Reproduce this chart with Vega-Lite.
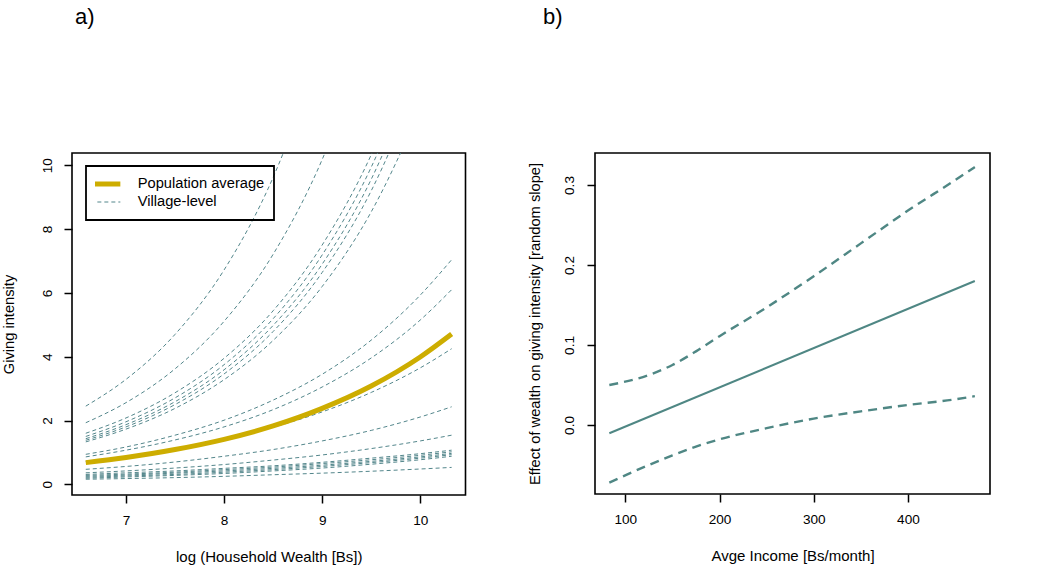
{
  "$schema": "https://vega.github.io/schema/vega-lite/v6.json",
  "padding": {"left": 0, "top": 5, "right": 5, "bottom": 5},
  "background": "white",
  "spacing": 59,
  "config": {
    "view": {"stroke": "black", "strokeWidth": 1.6},
    "font": "Liberation Sans",
    "axis": {"grid": false, "domain": false, "tickColor": "black", "tickWidth": 1.5, "tickSize": 8, "labelColor": "black", "labelFont": "Liberation Sans", "labelFontSize": 13.6, "titleFont": "Liberation Sans", "titleFontWeight": "normal", "titleColor": "black", "minExtent": 0, "maxExtent": 200},
    "axisX": {"labelPadding": 10, "titleFontSize": 15, "titlePadding": 23, "labelFlush": false},
    "axisY": {"labelAngle": 270, "labelAlign": "center", "labelBaseline": "bottom", "titleFontSize": 14.7, "labelPadding": 10},
    "title": {"font": "Liberation Sans Narrow, Liberation Sans", "fontSize": 22, "fontWeight": "normal", "anchor": "start", "color": "black", "baseline": "alphabetic", "frame": "group"},
    "line": {"strokeCap": "butt"}
  },
  "datasets": {
    "village": [
      {"v":"A","s":"Village-level","x":6.59,"y":2.45},{"v":"A","s":"Village-level","x":7,"y":3.29},{"v":"A","s":"Village-level","x":7.5,"y":4.70},{"v":"A","s":"Village-level","x":8,"y":6.72},{"v":"A","s":"Village-level","x":8.5,"y":9.62},{"v":"A","s":"Village-level","x":9,"y":13.76},
      {"v":"B","s":"Village-level","x":6.59,"y":1.93},{"v":"B","s":"Village-level","x":7,"y":2.56},{"v":"B","s":"Village-level","x":7.5,"y":3.62},{"v":"B","s":"Village-level","x":8,"y":5.11},{"v":"B","s":"Village-level","x":8.5,"y":7.21},{"v":"B","s":"Village-level","x":9,"y":10.18},{"v":"B","s":"Village-level","x":9.5,"y":14.37},
      {"v":"C1","s":"Village-level","x":6.59,"y":1.60},{"v":"C1","s":"Village-level","x":7,"y":2.08},{"v":"C1","s":"Village-level","x":7.5,"y":2.87},{"v":"C1","s":"Village-level","x":8,"y":3.95},{"v":"C1","s":"Village-level","x":8.5,"y":5.44},{"v":"C1","s":"Village-level","x":9,"y":7.50},{"v":"C1","s":"Village-level","x":9.5,"y":10.33},{"v":"C1","s":"Village-level","x":10,"y":14.24},
      {"v":"C2","s":"Village-level","x":6.59,"y":1.50},{"v":"C2","s":"Village-level","x":7,"y":1.96},{"v":"C2","s":"Village-level","x":7.5,"y":2.71},{"v":"C2","s":"Village-level","x":8,"y":3.75},{"v":"C2","s":"Village-level","x":8.5,"y":5.19},{"v":"C2","s":"Village-level","x":9,"y":7.19},{"v":"C2","s":"Village-level","x":9.5,"y":9.94},{"v":"C2","s":"Village-level","x":10,"y":13.76},
      {"v":"C3","s":"Village-level","x":6.59,"y":1.43},{"v":"C3","s":"Village-level","x":7,"y":1.87},{"v":"C3","s":"Village-level","x":7.5,"y":2.59},{"v":"C3","s":"Village-level","x":8,"y":3.59},{"v":"C3","s":"Village-level","x":8.5,"y":4.98},{"v":"C3","s":"Village-level","x":9,"y":6.90},{"v":"C3","s":"Village-level","x":9.5,"y":9.56},{"v":"C3","s":"Village-level","x":10,"y":13.26},
      {"v":"C4","s":"Village-level","x":6.59,"y":1.38},{"v":"C4","s":"Village-level","x":7,"y":1.80},{"v":"C4","s":"Village-level","x":7.5,"y":2.50},{"v":"C4","s":"Village-level","x":8,"y":3.46},{"v":"C4","s":"Village-level","x":8.5,"y":4.79},{"v":"C4","s":"Village-level","x":9,"y":6.64},{"v":"C4","s":"Village-level","x":9.5,"y":9.20},{"v":"C4","s":"Village-level","x":10,"y":12.75},
      {"v":"C5","s":"Village-level","x":6.59,"y":1.33},{"v":"C5","s":"Village-level","x":7,"y":1.73},{"v":"C5","s":"Village-level","x":7.5,"y":2.38},{"v":"C5","s":"Village-level","x":8,"y":3.28},{"v":"C5","s":"Village-level","x":8.5,"y":4.51},{"v":"C5","s":"Village-level","x":9,"y":6.20},{"v":"C5","s":"Village-level","x":9.5,"y":8.54},{"v":"C5","s":"Village-level","x":10,"y":11.75},
      {"v":"D","s":"Village-level","x":6.59,"y":0.94},{"v":"D","s":"Village-level","x":7,"y":1.17},{"v":"D","s":"Village-level","x":7.5,"y":1.54},{"v":"D","s":"Village-level","x":8,"y":2.01},{"v":"D","s":"Village-level","x":8.5,"y":2.64},{"v":"D","s":"Village-level","x":9,"y":3.45},{"v":"D","s":"Village-level","x":9.5,"y":4.52},{"v":"D","s":"Village-level","x":10,"y":5.93},{"v":"D","s":"Village-level","x":10.32,"y":7.04},
      {"v":"E","s":"Village-level","x":6.59,"y":0.86},{"v":"E","s":"Village-level","x":7,"y":1.07},{"v":"E","s":"Village-level","x":7.5,"y":1.39},{"v":"E","s":"Village-level","x":8,"y":1.80},{"v":"E","s":"Village-level","x":8.5,"y":2.34},{"v":"E","s":"Village-level","x":9,"y":3.05},{"v":"E","s":"Village-level","x":9.5,"y":3.96},{"v":"E","s":"Village-level","x":10,"y":5.15},{"v":"E","s":"Village-level","x":10.32,"y":6.10},
      {"v":"F","s":"Village-level","x":6.59,"y":0.72},{"v":"F","s":"Village-level","x":7,"y":0.88},{"v":"F","s":"Village-level","x":7.5,"y":1.11},{"v":"F","s":"Village-level","x":8,"y":1.41},{"v":"F","s":"Village-level","x":8.5,"y":1.79},{"v":"F","s":"Village-level","x":9,"y":2.27},{"v":"F","s":"Village-level","x":9.5,"y":2.88},{"v":"F","s":"Village-level","x":10,"y":3.65},{"v":"F","s":"Village-level","x":10.32,"y":4.25},
      {"v":"G","s":"Village-level","x":6.59,"y":0.47},{"v":"G","s":"Village-level","x":7,"y":0.56},{"v":"G","s":"Village-level","x":7.5,"y":0.70},{"v":"G","s":"Village-level","x":8,"y":0.88},{"v":"G","s":"Village-level","x":8.5,"y":1.09},{"v":"G","s":"Village-level","x":9,"y":1.36},{"v":"G","s":"Village-level","x":9.5,"y":1.69},{"v":"G","s":"Village-level","x":10,"y":2.11},{"v":"G","s":"Village-level","x":10.32,"y":2.43},
      {"v":"H","s":"Village-level","x":6.59,"y":0.36},{"v":"H","s":"Village-level","x":7,"y":0.42},{"v":"H","s":"Village-level","x":7.5,"y":0.51},{"v":"H","s":"Village-level","x":8,"y":0.62},{"v":"H","s":"Village-level","x":8.5,"y":0.76},{"v":"H","s":"Village-level","x":9,"y":0.92},{"v":"H","s":"Village-level","x":9.5,"y":1.12},{"v":"H","s":"Village-level","x":10,"y":1.36},{"v":"H","s":"Village-level","x":10.32,"y":1.54},
      {"v":"I1","s":"Village-level","x":6.59,"y":0.31},{"v":"I1","s":"Village-level","x":7,"y":0.36},{"v":"I1","s":"Village-level","x":7.5,"y":0.42},{"v":"I1","s":"Village-level","x":8,"y":0.50},{"v":"I1","s":"Village-level","x":8.5,"y":0.58},{"v":"I1","s":"Village-level","x":9,"y":0.69},{"v":"I1","s":"Village-level","x":9.5,"y":0.82},{"v":"I1","s":"Village-level","x":10,"y":0.96},{"v":"I1","s":"Village-level","x":10.32,"y":1.07},
      {"v":"I2","s":"Village-level","x":6.59,"y":0.28},{"v":"I2","s":"Village-level","x":7,"y":0.32},{"v":"I2","s":"Village-level","x":7.5,"y":0.38},{"v":"I2","s":"Village-level","x":8,"y":0.46},{"v":"I2","s":"Village-level","x":8.5,"y":0.54},{"v":"I2","s":"Village-level","x":9,"y":0.65},{"v":"I2","s":"Village-level","x":9.5,"y":0.77},{"v":"I2","s":"Village-level","x":10,"y":0.91},{"v":"I2","s":"Village-level","x":10.32,"y":1.02},
      {"v":"I3","s":"Village-level","x":6.59,"y":0.25},{"v":"I3","s":"Village-level","x":7,"y":0.29},{"v":"I3","s":"Village-level","x":7.5,"y":0.35},{"v":"I3","s":"Village-level","x":8,"y":0.42},{"v":"I3","s":"Village-level","x":8.5,"y":0.50},{"v":"I3","s":"Village-level","x":9,"y":0.60},{"v":"I3","s":"Village-level","x":9.5,"y":0.72},{"v":"I3","s":"Village-level","x":10,"y":0.86},{"v":"I3","s":"Village-level","x":10.32,"y":0.97},
      {"v":"I4","s":"Village-level","x":6.59,"y":0.22},{"v":"I4","s":"Village-level","x":7,"y":0.26},{"v":"I4","s":"Village-level","x":7.5,"y":0.31},{"v":"I4","s":"Village-level","x":8,"y":0.38},{"v":"I4","s":"Village-level","x":8.5,"y":0.46},{"v":"I4","s":"Village-level","x":9,"y":0.56},{"v":"I4","s":"Village-level","x":9.5,"y":0.68},{"v":"I4","s":"Village-level","x":10,"y":0.82},{"v":"I4","s":"Village-level","x":10.32,"y":0.93},
      {"v":"I5","s":"Village-level","x":6.59,"y":0.19},{"v":"I5","s":"Village-level","x":7,"y":0.23},{"v":"I5","s":"Village-level","x":7.5,"y":0.28},{"v":"I5","s":"Village-level","x":8,"y":0.34},{"v":"I5","s":"Village-level","x":8.5,"y":0.42},{"v":"I5","s":"Village-level","x":9,"y":0.51},{"v":"I5","s":"Village-level","x":9.5,"y":0.63},{"v":"I5","s":"Village-level","x":10,"y":0.77},{"v":"I5","s":"Village-level","x":10.32,"y":0.88},
      {"v":"J","s":"Village-level","x":6.59,"y":0.16},{"v":"J","s":"Village-level","x":7,"y":0.18},{"v":"J","s":"Village-level","x":7.5,"y":0.21},{"v":"J","s":"Village-level","x":8,"y":0.25},{"v":"J","s":"Village-level","x":8.5,"y":0.30},{"v":"J","s":"Village-level","x":9,"y":0.35},{"v":"J","s":"Village-level","x":9.5,"y":0.41},{"v":"J","s":"Village-level","x":10,"y":0.48},{"v":"J","s":"Village-level","x":10.32,"y":0.53}
    ],
    "pop": [
      {"v":"P","s":"Population average","x":6.59,"y":0.68},{"v":"P","s":"Population average","x":7,"y":0.84},{"v":"P","s":"Population average","x":7.5,"y":1.09},{"v":"P","s":"Population average","x":8,"y":1.41},{"v":"P","s":"Population average","x":8.5,"y":1.83},{"v":"P","s":"Population average","x":9,"y":2.38},{"v":"P","s":"Population average","x":9.5,"y":3.08},{"v":"P","s":"Population average","x":10,"y":3.99},{"v":"P","s":"Population average","x":10.32,"y":4.71}
    ],
    "ci": [
      {"bound":"fit","kind":"fit","x":83,"y":-0.0104},{"bound":"fit","kind":"fit","x":471,"y":0.18},
      {"bound":"upper","kind":"ci","x":83,"y":0.050},{"bound":"upper","kind":"ci","x":125,"y":0.0625},{"bound":"upper","kind":"ci","x":150,"y":0.075},{"bound":"upper","kind":"ci","x":175,"y":0.092},{"bound":"upper","kind":"ci","x":200,"y":0.111},{"bound":"upper","kind":"ci","x":250,"y":0.147},{"bound":"upper","kind":"ci","x":300,"y":0.186},{"bound":"upper","kind":"ci","x":350,"y":0.227},{"bound":"upper","kind":"ci","x":400,"y":0.268},{"bound":"upper","kind":"ci","x":450,"y":0.306},{"bound":"upper","kind":"ci","x":471,"y":0.3225},
      {"bound":"lower","kind":"ci","x":83,"y":-0.072},{"bound":"lower","kind":"ci","x":125,"y":-0.050},{"bound":"lower","kind":"ci","x":150,"y":-0.038},{"bound":"lower","kind":"ci","x":175,"y":-0.027},{"bound":"lower","kind":"ci","x":200,"y":-0.018},{"bound":"lower","kind":"ci","x":250,"y":-0.004},{"bound":"lower","kind":"ci","x":300,"y":0.008},{"bound":"lower","kind":"ci","x":350,"y":0.017},{"bound":"lower","kind":"ci","x":400,"y":0.025},{"bound":"lower","kind":"ci","x":450,"y":0.032},{"bound":"lower","kind":"ci","x":471,"y":0.036}
    ]
  },
  "hconcat": [
    {
      "width": 393.5,
      "height": 342,
      "title": {"text": "a)", "offset": 124, "dx": 3},
      "layer": [
        {
          "data": {"name": "village"},
          "mark": {"type": "line", "clip": true, "interpolate": "monotone", "strokeWidth": 1, "strokeDash": [4, 3]},
          "encoding": {
            "x": {"field": "x", "type": "quantitative", "scale": {"domain": [6.4495, 10.4613], "nice": false, "zero": false}, "axis": {"values": [7, 8, 9, 10], "format": "d", "title": "log (Household Wealth [Bs])"}},
            "y": {"field": "y", "type": "quantitative", "scale": {"domain": [-0.335, 10.385], "nice": false, "zero": false}, "axis": {"values": [0, 2, 4, 6, 8, 10], "format": "d", "title": "Giving intensity", "titlePadding": 24}},
            "detail": {"field": "v"},
            "color": {"field": "s", "type": "nominal", "scale": {"domain": ["Population average", "Village-level"], "range": ["#CDAD00", "#53868B"]},
              "legend": {"orient": "none", "legendX": 14, "legendY": 13, "title": null, "symbolType": "stroke", "symbolSize": 900, "clipHeight": 18, "labelFontSize": 14.7, "labelFont": "Liberation Sans", "labelColor": "black", "labelOffset": 25, "symbolOffset": 3, "padding": 9, "strokeColor": "black", "rowPadding": 0, "labelLimit": 300,
                "encode": {
                  "legend": {"update": {"strokeWidth": {"value": 1.8}}},
                  "symbols": {"update": {
                    "strokeWidth": {"signal": "datum.value === 'Population average' ? 5 : 1"},
                    "strokeDash": {"signal": "datum.value === 'Population average' ? [1, 0] : [4, 3]"},
                    "opacity": {"value": 1}
                  }}
                }}}
          }
        },
        {
          "data": {"name": "pop"},
          "mark": {"type": "line", "clip": true, "interpolate": "monotone", "strokeWidth": 5},
          "encoding": {
            "x": {"field": "x", "type": "quantitative"},
            "y": {"field": "y", "type": "quantitative"},
            "detail": {"field": "v"},
            "color": {"field": "s", "type": "nominal"}
          }
        }
      ]
    },
    {
      "width": 395,
      "height": 341,
      "title": {"text": "b)", "offset": 124, "dx": -52},
      "data": {"name": "ci"},
      "encoding": {
        "x": {"field": "x", "type": "quantitative", "scale": {"domain": [67.8, 487.1], "nice": false, "zero": false}, "axis": {"values": [100, 200, 300, 400], "format": "d", "title": "Avge Income [Bs/month]"}},
        "y": {"field": "y", "type": "quantitative", "scale": {"domain": [-0.0863, 0.34], "nice": false, "zero": false}, "axis": {"values": [0, 0.1, 0.2, 0.3], "format": ".1f", "title": "Effect of wealth on giving intensity [random slope]", "labelPadding": 11, "titlePadding": 19.5}},
        "detail": {"field": "bound"}
      },
      "layer": [
        {
          "transform": [{"filter": "datum.kind === 'fit'"}],
          "mark": {"type": "line", "clip": true, "color": "#4F8784", "strokeWidth": 2}
        },
        {
          "transform": [{"filter": "datum.kind === 'ci'"}],
          "mark": {"type": "line", "clip": true, "interpolate": "monotone", "color": "#4F8784", "strokeWidth": 2.4, "strokeDash": [9, 6]}
        }
      ]
    }
  ]
}
